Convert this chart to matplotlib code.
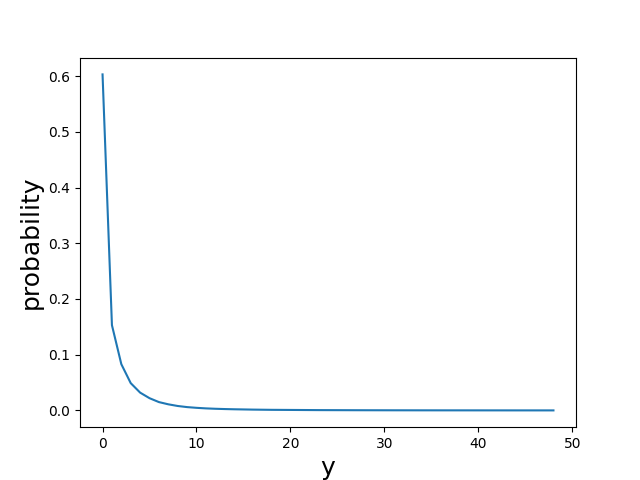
import numpy as np
import matplotlib
matplotlib.use("Agg")
import matplotlib.pyplot as plt

y_vals = np.arange(49)
prob = [0.603, 0.153, 0.083, 0.049, 0.032, 0.022, 0.015, 0.011, 0.008, 0.006,
        0.0047, 0.0037, 0.0030, 0.0025, 0.0021, 0.0018, 0.0015, 0.0013, 0.0011, 0.0010,
        0.0009, 0.0008, 0.0007, 0.0006, 0.00055, 0.0005, 0.00045, 0.0004, 0.00036, 0.00033,
        0.0003, 0.00027, 0.00025, 0.00023, 0.00021, 0.0002, 0.00018, 0.00017, 0.00016, 0.00015,
        0.00014, 0.00013, 0.00012, 0.00011, 0.0001, 0.0001, 0.00009, 0.00009, 0.00008]

fig, ax = plt.subplots(figsize=(6.4, 4.8), dpi=100)
ax.plot(y_vals, prob)
ax.set_xlabel("y", fontsize=18)
ax.set_ylabel("probability", fontsize=18)
fig.savefig("out.png")
